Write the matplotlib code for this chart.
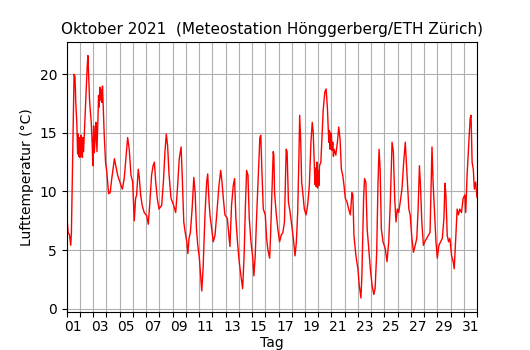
import matplotlib
matplotlib.use("Agg")
import matplotlib.pyplot as plt
import matplotlib.dates as mdates
import matplotlib.ticker as mticker
import pandas as pd

# readings as (days since 2021-10-01 00:00, temperature in deg C)
days_01_05 = [
    (0.00, 8.0), (0.10, 6.5), (0.20, 6.3), (0.30, 5.4), (0.35, 6.5), (0.45, 13.0),
    (0.55, 20.0), (0.62, 19.8), (0.68, 17.6), (0.76, 15.8), (0.82, 13.2), (0.86, 14.9),
    (0.90, 13.0), (0.95, 14.6), (0.98, 12.9), (1.02, 14.5), (1.05, 13.0), (1.08, 14.8),
    (1.12, 13.2), (1.15, 14.3), (1.18, 12.9), (1.22, 14.6), (1.26, 13.4), (1.30, 14.2),
    (1.36, 15.9), (1.46, 18.5), (1.55, 20.8), (1.60, 21.6), (1.66, 19.6), (1.72, 17.8),
    (1.77, 17.0), (1.85, 15.9), (1.92, 14.0), (1.97, 12.2), (2.03, 15.6), (2.08, 13.3),
    (2.15, 14.6), (2.20, 15.9), (2.28, 13.4), (2.35, 16.0), (2.40, 18.2), (2.45, 17.2),
    (2.50, 18.9), (2.55, 17.8), (2.60, 18.7), (2.65, 17.6), (2.70, 19.0), (2.76, 17.0),
    (2.83, 14.8), (2.93, 12.5), (3.03, 11.6), (3.16, 9.8), (3.28, 9.9), (3.40, 11.1),
    (3.60, 12.8), (3.72, 12.1), (3.84, 11.4), (4.10, 10.5), (4.20, 10.2), (4.34, 11.1),
    (4.47, 12.8), (4.60, 14.6), (4.72, 13.6), (4.85, 11.4), (4.98, 10.8),
]
days_06_10 = [
    (5.10, 7.5), (5.20, 9.4), (5.28, 9.7), (5.40, 11.9), (5.48, 11.2), (5.58, 9.7),
    (5.70, 8.8), (5.85, 8.2), (6.03, 7.95), (6.16, 7.2), (6.28, 9.1), (6.41, 11.4),
    (6.52, 12.2), (6.62, 12.5), (6.72, 10.8), (6.84, 9.4), (6.97, 8.5), (7.17, 8.8),
    (7.30, 10.8), (7.42, 13.4), (7.52, 14.9), (7.62, 13.9), (7.73, 11.4), (7.88, 9.4),
    (8.05, 8.9), (8.23, 8.2), (8.36, 10.2), (8.50, 12.8), (8.64, 13.8), (8.74, 10.8),
    (8.84, 7.4), (8.95, 6.5), (9.07, 5.7), (9.15, 4.7), (9.24, 6.0), (9.34, 6.5),
    (9.47, 8.5), (9.60, 11.2), (9.70, 9.9), (9.80, 6.8), (9.90, 5.4), (10.02, 4.3),
    (10.10, 3.1), (10.20, 1.5), (10.30, 3.4),
]
days_11_15 = [
    (10.45, 8.2), (10.57, 10.8), (10.65, 11.5), (10.75, 9.1), (10.82, 8.0), (10.95, 6.8),
    (11.07, 5.7), (11.20, 6.25), (11.33, 8.0), (11.50, 10.5), (11.63, 11.8), (11.73, 10.8),
    (11.83, 9.4), (11.95, 8.0), (12.13, 7.7), (12.25, 6.25), (12.33, 5.3), (12.45, 8.8),
    (12.58, 10.5), (12.68, 11.1), (12.78, 7.7), (12.90, 5.7), (13.03, 4.0), (13.16, 2.8),
    (13.29, 1.7), (13.40, 4.5), (13.50, 8.8), (13.59, 11.8), (13.69, 11.4), (13.79, 7.7),
    (13.92, 5.7), (14.04, 4.5), (14.14, 2.8), (14.24, 4.5), (14.34, 7.7), (14.47, 11.4),
    (14.59, 14.6), (14.66, 14.8), (14.74, 11.9), (14.85, 8.5), (15.00, 8.0), (15.10, 6.0),
    (15.20, 5.0),
]
days_16_20 = [
    (15.33, 4.3), (15.40, 6.25), (15.50, 9.9), (15.60, 13.4), (15.65, 13.1), (15.70, 9.9),
    (15.82, 8.2), (15.95, 6.8), (16.08, 5.7), (16.20, 6.25), (16.33, 6.5), (16.45, 7.4),
    (16.58, 13.6), (16.65, 13.4), (16.75, 9.1), (16.88, 8.2), (17.00, 7.1), (17.12, 6.0),
    (17.25, 4.5), (17.35, 5.7), (17.45, 8.2), (17.55, 13.4), (17.60, 16.5), (17.68, 14.2),
    (17.75, 10.8), (17.85, 9.7), (17.95, 8.5), (18.08, 8.0), (18.20, 8.8), (18.33, 10.5),
    (18.45, 14.2), (18.55, 15.9), (18.62, 15.1), (18.70, 12.5), (18.75, 10.6), (18.80, 12.0),
    (18.85, 10.4), (18.90, 12.5), (18.95, 10.3), (19.00, 11.8), (19.05, 10.5), (19.10, 12.2),
    (19.20, 12.5), (19.28, 14.5), (19.38, 17.0), (19.50, 18.5), (19.60, 18.75), (19.70, 17.0),
    (19.80, 14.2), (19.85, 15.2), (19.90, 13.6), (19.95, 15.0), (20.00, 14.8), (20.05, 13.5),
    (20.10, 14.2), (20.15, 13.0), (20.20, 13.6), (20.33, 13.1), (20.45, 14.2), (20.55, 15.5),
    (20.65, 14.5), (20.75, 11.9), (20.85, 11.4), (20.95, 10.5),
]
days_21_25 = [
    (21.05, 9.4), (21.18, 9.1), (21.30, 8.5), (21.43, 8.0), (21.55, 9.9), (21.62, 9.7),
    (21.70, 6.25), (21.85, 4.5), (22.00, 3.4), (22.10, 2.0), (22.23, 0.9), (22.30, 2.8),
    (22.43, 9.4), (22.50, 11.1), (22.60, 10.8), (22.70, 6.8), (22.80, 5.4), (22.94, 3.4),
    (23.07, 2.0), (23.20, 1.2), (23.30, 1.7), (23.42, 4.8), (23.52, 10.8), (23.60, 13.6),
    (23.68, 11.9), (23.77, 6.8), (23.90, 5.7), (24.07, 5.1), (24.20, 4.0), (24.33, 5.7),
    (24.45, 9.1), (24.58, 14.2), (24.68, 13.4), (24.78, 9.4), (24.88, 7.4), (24.98, 8.5),
    (25.08, 8.2), (25.20, 9.1), (25.33, 10.2), (25.46, 12.5), (25.58, 14.2), (25.66, 12.5),
    (25.75, 10.5), (25.85, 8.5), (25.95, 8.0),
]
days_26_31 = [
    (26.08, 6.0), (26.20, 4.8), (26.33, 5.4), (26.45, 6.0), (26.55, 8.5), (26.65, 12.2),
    (26.73, 10.5), (26.83, 7.4), (26.95, 5.4), (27.05, 5.7), (27.20, 6.0), (27.33, 6.25),
    (27.45, 6.5), (27.55, 11.4), (27.60, 13.8), (27.68, 10.8), (27.80, 8.0), (27.90, 5.7),
    (28.00, 4.3), (28.12, 5.4), (28.25, 5.7), (28.38, 6.0), (28.50, 7.7), (28.58, 10.7),
    (28.65, 9.7), (28.75, 6.25), (28.85, 5.7), (28.95, 6.0), (29.08, 4.5), (29.20, 4.0),
    (29.28, 3.4), (29.38, 5.7), (29.50, 8.5), (29.60, 8.0), (29.70, 8.5), (29.83, 8.2),
    (29.95, 9.4), (30.08, 9.7), (30.15, 8.2), (30.25, 11.4), (30.38, 14.2), (30.48, 16.2),
    (30.55, 16.5), (30.63, 12.5), (30.72, 11.9), (30.80, 10.2), (30.90, 10.8), (31.00, 9.5),
]

readings = days_01_05 + days_06_10 + days_11_15 + days_16_20 + days_21_25 + days_26_31
t_days = [r[0] for r in readings]
temp = [r[1] for r in readings]

start = pd.Timestamp("2021-10-01")
times = start + pd.to_timedelta(t_days, unit="D")

fig = plt.figure(figsize=(5.3, 3.5), dpi=100)
ax = fig.add_axes([0.126, 0.109, 0.774, 0.771])

ax.plot(times, temp, color="red", linewidth=1.0)

ax.set_xlim(start, start + pd.Timedelta(days=31))
ax.set_ylim(-0.28, 22.76)
ax.set_yticks([0, 5, 10, 15, 20])

# gridlines at every midnight, labels at noon of odd days
ax.xaxis.set_major_locator(mdates.DayLocator())
ax.xaxis.set_major_formatter(mticker.NullFormatter())
label_days = [start + pd.Timedelta(days=d, hours=12) for d in range(0, 31, 2)]
ax.xaxis.set_minor_locator(mticker.FixedLocator(mdates.date2num(label_days)))
ax.xaxis.set_minor_formatter(mdates.DateFormatter("%d"))
ax.tick_params(axis="x", which="minor", length=0, pad=6)

ax.grid(True, which="major", color="#b0b0b0", linewidth=0.8)

ax.set_title("Oktober 2021  (Meteostation Hönggerberg/ETH Zürich)", fontsize=11)
ax.set_xlabel("Tag", labelpad=1)
ax.set_ylabel("Lufttemperatur (°C)")

fig.savefig("out.png", dpi=100)
